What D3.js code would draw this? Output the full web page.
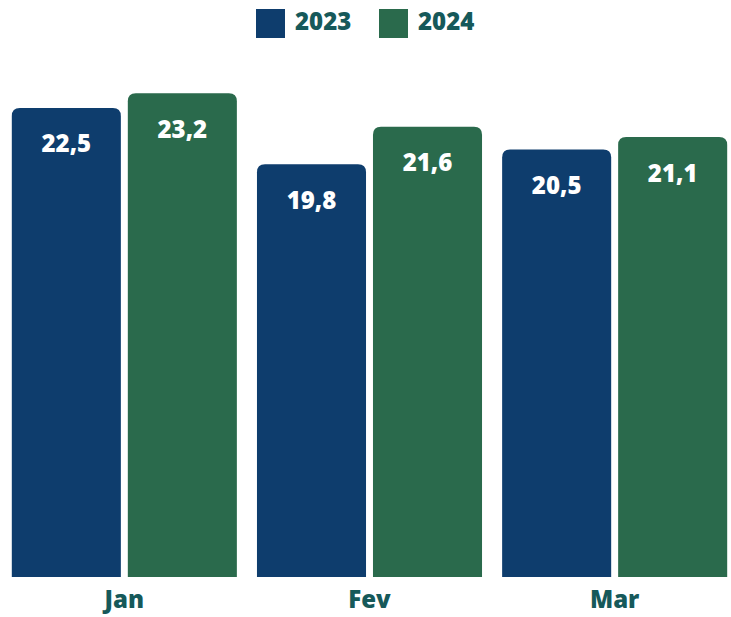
<!DOCTYPE html>
<html>
<head>
<meta charset="utf-8">
<script src="https://cdn.jsdelivr.net/npm/d3@7"></script>
<style>
  body { margin: 0; background: #fff; }
  svg { display: block; font-family: "Open Sans", sans-serif; }
</style>
</head>
<body>
<div id="chart"></div>
<script>
const months = ["Jan", "Fev", "Mar"];
const seriesNames = ["2023", "2024"];
const values2023 = [22.5, 19.8, 20.5];
const values2024 = [23.2, 21.6, 21.1];
const colours = ["#0e3d6d", "#2a6a4c"];

const width = 731, height = 617;
const textcolour = "#16595a";

const svg = d3.select("#chart")
  .append("svg")
  .attr("width", width)
  .attr("height", height);

const data = months.map((m, i) => ({ month: m, vals: [values2023[i], values2024[i]] }));

const x0 = d3.scaleBand()
  .domain(months)
  .range([2, 737])
  .paddingInner(0.082)
  .paddingOuter(0.04);

const x1 = d3.scaleBand()
  .domain(seriesNames)
  .range([0, x0.bandwidth()])
  .paddingInner(0.06);

const y = d3.scaleLinear()
  .domain([0, 25])
  .range([577, 577 - 25 * 20.85]);

// rounded top corners only
function barPath(x, yTop, w, yBottom, r) {
  return `M${x},${yBottom}V${yTop + r}Q${x},${yTop} ${x + r},${yTop}H${x + w - r}Q${x + w},${yTop} ${x + w},${yTop + r}V${yBottom}Z`;
}

const groups = svg.selectAll("g.group")
  .data(data)
  .enter()
  .append("g")
  .attr("class", "group")
  .attr("transform", d => `translate(${x0(d.month)},0)`);

const cells = groups.selectAll("g.bar")
  .data(d => d.vals.map((v, i) => ({ key: seriesNames[i], value: v, idx: i })))
  .enter()
  .append("g")
  .attr("class", "bar");

cells.append("path")
  .attr("d", d => barPath(x1(d.key), y(d.value), x1.bandwidth(), y(0), 8))
  .attr("fill", d => colours[d.idx]);

cells.append("text")
  .text(d => d3.format(".1f")(d.value).replace(".", ","))
  .attr("x", d => x1(d.key) + x1.bandwidth() / 2)
  .attr("y", d => y(d.value) + 44.5)
  .attr("text-anchor", "middle")
  .attr("fill", "#fff")
  .attr("font-size", "24px")
  .attr("font-weight", 800);

// x axis labels
const xAxis = d3.axisBottom(x0).tickSize(0).tickPadding(0);
const axisG = svg.append("g")
  .attr("transform", "translate(0,577)")
  .call(xAxis);
axisG.select(".domain").remove();
axisG.selectAll("text")
  .attr("dy", "31px")
  .attr("fill", textcolour)
  .attr("font-size", "24px")
  .attr("font-weight", 800)
  .attr("font-family", "Open Sans, sans-serif");

// legend
const legend = svg.append("g");
const legendX = [256, 379];
const items = legend.selectAll("g")
  .data(seriesNames)
  .enter()
  .append("g")
  .attr("transform", (d, i) => `translate(${legendX[i]},9)`);
items.append("rect")
  .attr("width", 29)
  .attr("height", 29)
  .attr("fill", (d, i) => colours[i]);
items.append("text")
  .text(d => d)
  .attr("x", 39)
  .attr("y", 21)
  .attr("fill", textcolour)
  .attr("font-size", "24px")
  .attr("font-weight", 800);
</script>
</body>
</html>
